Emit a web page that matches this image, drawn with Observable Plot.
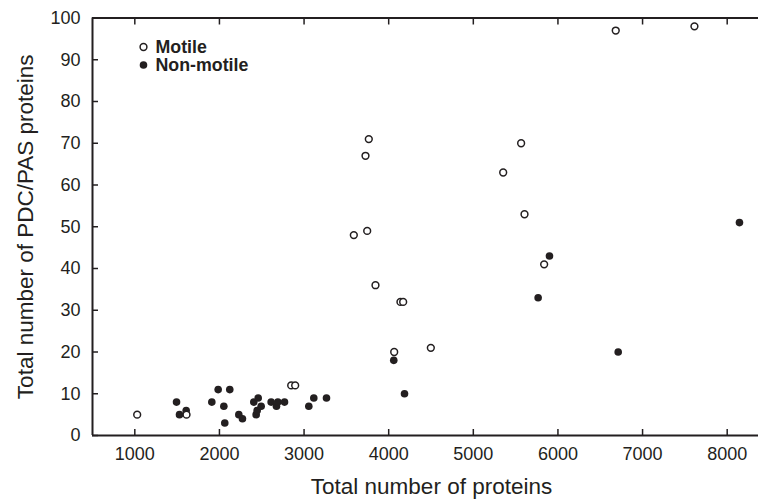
<!DOCTYPE html>
<html><head><meta charset="utf-8">
<script src="https://cdn.jsdelivr.net/npm/d3@7"></script>
<script src="https://cdn.jsdelivr.net/npm/@observablehq/plot@0.6"></script>
<style>body{margin:0;background:#fff}</style>
</head><body><div id="chart"></div>
<script>
const motileX = [1028,1611,2848,2895,3844,3588,3746,3726,3765,6683,7613,5565,5353,5605,5837,4139,4171,4065,4498];
const motileY = [5,5,12,12,36,48,49,67,71,97,98,70,63,53,41,32,32,20,21];
const nonMotileX = [1493,1528,1607,1910,1985,2122,2052,2063,2229,2272,2406,2458,2434,2446,2493,2611,2674,2690,2769,3056,3115,3265,4060,4187,5766,5900,6712,8145];
const nonMotileY = [8,5,6,8,11,11,7,3,5,4,8,9,5,6,7,8,7,8,8,7,9,9,18,10,33,43,20,51];
const xTicks = [1000,2000,3000,4000,5000,6000,7000,8000];
const yTicks = [0,10,20,30,40,50,60,70,80,90,100];
const xTitle = "Total number of proteins";
const yTitle = "Total number of PDC/PAS proteins";
const legendLabels = ["Motile","Non-motile"];

const motile = motileX.map((x,i)=>({x, y: motileY[i]}));
const nonMotile = nonMotileX.map((x,i)=>({x, y: nonMotileY[i]}));
const ink = "#231f20";

const chart = Plot.plot({
  width: 758, height: 499,
  marginLeft: 92, marginRight: 0, marginTop: 17.5, marginBottom: 64,
  style: {fontFamily: "'Liberation Sans', Arial, Helvetica, sans-serif", fontSize: "18px", color: ink, background: "#fff"},
  x: {domain: [500, 8370]},
  y: {domain: [0, 100]},
  marks: [
    Plot.axisX({anchor: "bottom", ticks: xTicks, tickFormat: d => String(d), tickSize: -6, tickPadding: 18, strokeWidth: 1.5, label: null, stroke: ink, fill: ink}),
    Plot.axisX({anchor: "top", ticks: xTicks, text: null, tickSize: -6, strokeWidth: 1.5, label: null, stroke: ink}),
    Plot.axisY({anchor: "left", ticks: yTicks, tickFormat: d => String(d), tickSize: -6, tickPadding: 18, strokeWidth: 1.5, label: null, stroke: ink, fill: ink}),
    Plot.ruleY([0, 100], {stroke: ink, strokeWidth: 2}),
    Plot.ruleX([500], {stroke: ink, strokeWidth: 2}),
    Plot.dot(nonMotile, {x: "x", y: "y", r: 3.8, fill: ink, stroke: "none"}),
    Plot.dot(motile, {x: "x", y: "y", r: 3.4, fill: "#fff", stroke: ink, strokeWidth: 1.5}),
    Plot.dot([legendLabels[0]], {frameAnchor: "top-left", dx: 51, dy: 29, r: 3.4, fill: "#fff", stroke: ink, strokeWidth: 1.5}),
    Plot.dot([legendLabels[1]], {frameAnchor: "top-left", dx: 51, dy: 47, r: 3.8, fill: ink, stroke: "none"}),
    Plot.text([legendLabels[0]], {frameAnchor: "top-left", dx: 63, dy: 29, text: d => d, textAnchor: "start", lineAnchor: "middle", fontWeight: "bold", fontSize: 17.8, fill: ink}),
    Plot.text([legendLabels[1]], {frameAnchor: "top-left", dx: 63, dy: 47, text: d => d, textAnchor: "start", lineAnchor: "middle", fontWeight: "bold", fontSize: 17.8, fill: ink}),
    Plot.text([xTitle], {frameAnchor: "bottom", dx: 6, dy: 51.5, text: d => d, textAnchor: "middle", lineAnchor: "middle", fontSize: 22.5, fill: ink}),
    Plot.text([yTitle], {frameAnchor: "left", dx: -67, dy: 0, rotate: -90, text: d => d, textAnchor: "middle", lineAnchor: "middle", fontSize: 22.5, fill: ink})
  ]
});
document.getElementById("chart").appendChild(chart);
</script>
</body></html>
